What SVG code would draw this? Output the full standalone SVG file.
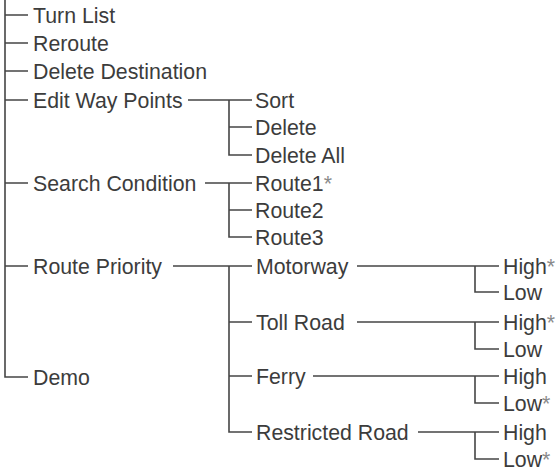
<svg xmlns="http://www.w3.org/2000/svg" width="557" height="472" viewBox="0 0 557 472">
<style>
  .c { stroke: #454545; stroke-width: 1.6; fill: none; }
  text { font-family: "Liberation Sans", Arial, sans-serif; font-size: 21.3px; fill: #3c3c3c; }
  .ast { fill: #8a8a8a; }
</style>
<rect width="557" height="472" fill="#ffffff"/>
<g id="connectors" class="c">
  <path d="M5 0 V377 H28"/>
  <path d="M5 15 H28 M5 43 H28 M5 71 H28 M5 100 H28 M5 183 H28 M5 266 H28"/>
  <path d="M188 100 H252 M229 100 V155 H252 M229 127 H252"/>
  <path d="M205 183 H252 M229 183 V237 H252 M229 210 H252"/>
  <path d="M173 266 H252 M229 266 V432 H252 M229 322 H252 M229 376 H252"/>
  <path d="M357 266 H499 M475 266 V292 H499"/>
  <path d="M357 322 H499 M475 322 V349 H499"/>
  <path d="M313 376 H499 M475 376 V403 H499"/>
  <path d="M418 432 H499 M475 432 V459 H499"/>
</g>
<g id="turn-list"><text x="33" y="22.5">Turn List</text></g>
<g id="reroute"><text x="33" y="50.5">Reroute</text></g>
<g id="delete-destination"><text x="33" y="78.5">Delete Destination</text></g>
<g id="edit-way-points"><text x="33" y="107.5">Edit Way Points</text></g>
<g id="sort"><text x="255" y="107.5">Sort</text></g>
<g id="delete"><text x="255" y="134.5">Delete</text></g>
<g id="delete-all"><text x="255" y="162.5">Delete All</text></g>
<g id="search-condition"><text x="33" y="190.5">Search Condition</text></g>
<g id="route1"><text x="255" y="190.5">Route1<tspan class="ast">*</tspan></text></g>
<g id="route2"><text x="255" y="217.5">Route2</text></g>
<g id="route3"><text x="255" y="244.5">Route3</text></g>
<g id="route-priority"><text x="33" y="273.5">Route Priority</text></g>
<g id="demo"><text x="33" y="384.5">Demo</text></g>
<g id="motorway"><text x="256" y="273.5">Motorway</text></g>
<g id="toll-road"><text x="256" y="329.5">Toll Road</text></g>
<g id="ferry"><text x="256" y="383.5">Ferry</text></g>
<g id="restricted-road"><text x="256" y="439.5">Restricted Road</text></g>
<g id="motorway-high"><text x="503" y="273.5">High<tspan class="ast">*</tspan></text></g>
<g id="motorway-low"><text x="503" y="299.5">Low</text></g>
<g id="toll-high"><text x="503" y="329.5">High<tspan class="ast">*</tspan></text></g>
<g id="toll-low"><text x="503" y="356.5">Low</text></g>
<g id="ferry-high"><text x="503" y="383.5">High</text></g>
<g id="ferry-low"><text x="503" y="410.5">Low<tspan class="ast">*</tspan></text></g>
<g id="restricted-high"><text x="503" y="439.5">High</text></g>
<g id="restricted-low"><text x="503" y="466.5">Low<tspan class="ast">*</tspan></text></g>
</svg>
